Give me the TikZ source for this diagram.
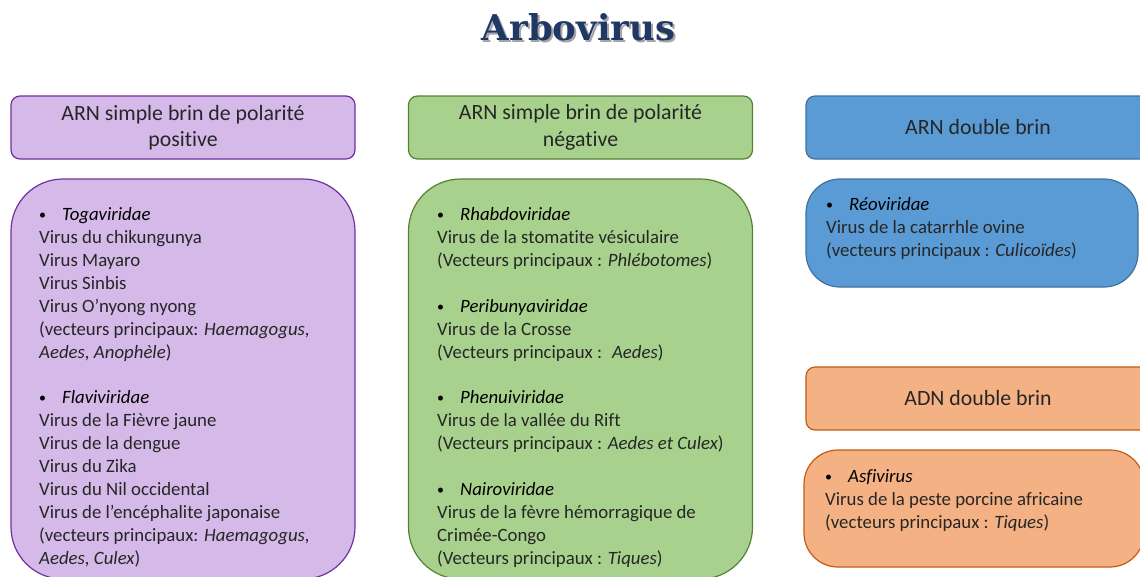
\documentclass[tikz,border=0pt]{standalone}
\usepackage{fontspec}
\setmainfont{Carlito}[Ligatures=NoCommon]
\newfontfamily\titlefont{DejaVu Serif}
\definecolor{purpfill}{RGB}{213,185,232}
\definecolor{purpline}{RGB}{112,48,160}
\definecolor{grnfill}{RGB}{169,209,142}
\definecolor{grnline}{RGB}{84,130,53}
\definecolor{bluefill}{RGB}{91,155,213}
\definecolor{blueline}{RGB}{65,113,156}
\definecolor{orgfill}{RGB}{244,177,131}
\definecolor{orgline}{RGB}{197,90,17}
\definecolor{titleblue}{RGB}{31,56,100}
\definecolor{txtgray}{RGB}{38,38,38}
\newcommand{\famitem}[1]{\strut\makebox[23pt][l]{\raisebox{1pt}{\fontsize{14}{14}\selectfont\color{black}\textbullet}}{\color{black}\textit{#1}}}
\begin{document}
\begin{tikzpicture}
[x = 1pt,
y = -1pt,
headbox/.style = {draw, line width=1.2pt, rounded corners=9pt, minimum width=344pt, minimum height=63pt, align=center, text=txtgray, font=\fontsize{21.8}{26.5}\selectfont},
bodybox/.style = {draw, line width=1.2pt, minimum width=344pt},
bodytext/.style = {anchor=north west, inner sep=0pt, align=left, text=txtgray, font=\fontsize{18.8}{22.9}\selectfont}]
\clip (0,0) rectangle (1140,576);
\useasboundingbox (0,0) rectangle (1140,576);

% title with its shadow
\node[text=black!35, font=\titlefont\bfseries\fontsize{35.5}{40}\selectfont] (shadow) at (580.5,29.5) {Arbovirus};
\node[text=titleblue, font=\titlefont\bfseries\fontsize{35.5}{40}\selectfont] (title) at (578.5,27.5) {Arbovirus};

% headers
\node[headbox, fill=purpfill, draw=purpline] (hpos) at (183,127.5) {ARN simple brin de polarité\\positive};
\node[headbox, fill=grnfill, draw=grnline] (hneg) at (580.5,127.5) {ARN simple brin de polarité\\négative};
\node[headbox, fill=bluefill, draw=blueline] (hdsrna) at (978,127.5) {ARN double brin};
\node[headbox, fill=orgfill, draw=orgline] (hdsdna) at (978,398.5) {ADN double brin};

% bodies
\node[bodybox, fill=purpfill, draw=purpline, rounded corners=52pt, minimum height=400pt] (bpos) at (183,379) {};
\node[bodybox, fill=grnfill, draw=grnline, rounded corners=52pt, minimum height=400pt] (bneg) at (580.5,379) {};
\node[bodybox, fill=bluefill, draw=blueline, rounded corners=34pt, minimum width=332pt, minimum height=108pt] (bdsrna) at (972,233) {};
\node[bodybox, fill=orgfill, draw=orgline, rounded corners=34pt, minimum width=340pt, minimum height=117pt] (bdsdna) at (974,508.5) {};

% texts
\node[bodytext] (tpos) at (39,204.5) {\famitem{Togaviridae}\\
Virus du chikungunya\\
Virus Mayaro\\
Virus Sinbis\\
Virus O’nyong nyong\\
(vecteurs principaux: \textit{Haemagogus,}\\
\textit{Aedes, Anophèle})\\[22.9pt]
\famitem{Flaviviridae}\\
Virus de la Fièvre jaune\\
Virus de la dengue\\
Virus du Zika\\
Virus du Nil occidental\\
Virus de l’encéphalite japonaise\\
(vecteurs principaux: \textit{Haemagogus,}\\
\textit{Aedes, Culex})};

\node[bodytext] (tneg) at (437,204.5) {\famitem{Rhabdoviridae}\\
Virus de la stomatite vésiculaire\\
(Vecteurs principaux : \textit{Phlébotomes})\\[22.9pt]
\famitem{Peribunyaviridae}\\
Virus de la Crosse\\
(Vecteurs principaux :~ \textit{Aedes})\\[22.9pt]
\famitem{Phenuiviridae}\\
Virus de la vallée du Rift\\
(Vecteurs principaux : \textit{Aedes et Culex})\\[22.9pt]
\famitem{Nairoviridae}\\
Virus de la fèvre hémorragique de\\
Crimée-Congo\\
(Vecteurs principaux : \textit{Tiques})};

\node[bodytext] (tdsrna) at (826,194.5) {\famitem{Réoviridae}\\
Virus de la catarrhle ovine\\
(vecteurs principaux : \textit{Culicoïdes})};

\node[bodytext] (tdsdna) at (825,466.5) {\famitem{Asfivirus}\\
Virus de la peste porcine africaine\\
(vecteurs principaux : \textit{Tiques})};
\end{tikzpicture}
\end{document}
